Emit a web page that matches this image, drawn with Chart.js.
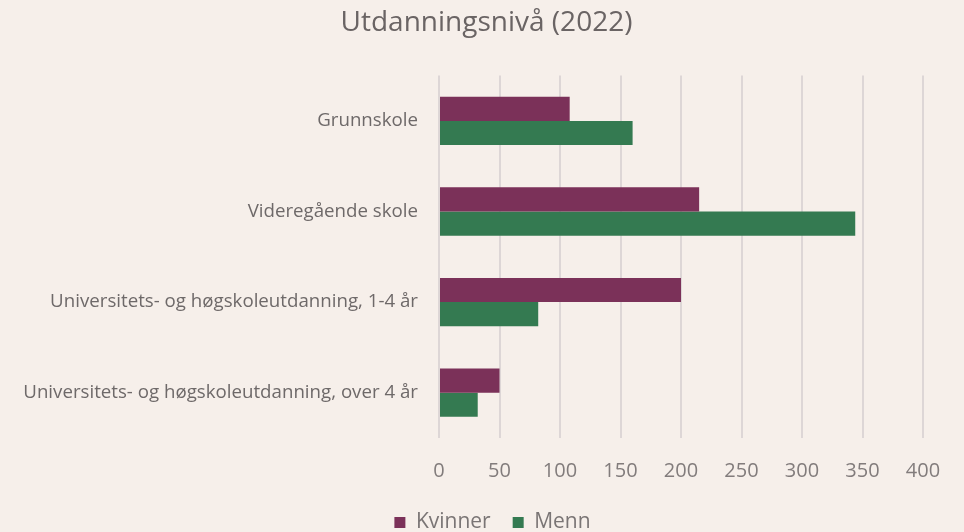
<!DOCTYPE html>
<html><head><meta charset="utf-8">
<script src="https://cdn.jsdelivr.net/npm/chart.js@4"></script>
<style>html,body{margin:0;padding:0;background:#F6EFEA;}#wrap{width:964px;height:532px;}</style>
</head><body><div id="wrap"><canvas id="c" width="964" height="532"></canvas></div>
<script>
const categories = ["Grunnskole","Videregående skole","Universitets- og høgskoleutdanning, 1-4 år","Universitets- og høgskoleutdanning, over 4 år"];
const kvinner = [108, 215, 200, 50];
const menn = [160, 344, 82, 32];
const seriesNames = ["Kvinner","Menn"];
const xTicks = [0,50,100,150,200,250,300,350,400];
const FONT = "'Open Sans', Lato, sans-serif";
const shiftBlocks = {
  id: 'shiftBlocks',
  afterLayout(chart) {
    if (chart.titleBlock) chart.titleBlock.left += 45;
    if (chart.legend) chart.legend.left += 57;
  }
};
new Chart(document.getElementById('c'), {
  type: 'bar',
  data: {
    labels: categories,
    datasets: [
      {label: seriesNames[0], data: kvinner, backgroundColor: '#7B3159', categoryPercentage: 0.533, barPercentage: 1},
      {label: seriesNames[1], data: menn, backgroundColor: '#347A51', categoryPercentage: 0.533, barPercentage: 1}
    ]
  },
  plugins: [shiftBlocks],
  options: {
    indexAxis: 'y',
    responsive: false,
    animation: false,
    layout: {padding: {left: 5, right: 41, top: 6, bottom: -11}},
    plugins: {
      title: {display: true, text: 'Utdanningsnivå (2022)', color: '#6A6464', font: {family: FONT, size: 28, weight: 'normal'}, padding: {top: 0, bottom: 36}},
      legend: {position: 'bottom', labels: {color: '#7A7575', font: {family: FONT, size: 21}, boxWidth: 11, boxHeight: 11, padding: 22}},
      tooltip: {enabled: false}
    },
    scales: {
      x: {
        min: 0, max: 400,
        afterBuildTicks: (s) => { s.ticks = xTicks.map(v => ({value: v})); },
        ticks: {color: '#827C7C', font: {family: FONT, size: 20}, padding: 21},
        grid: {color: '#DDD6D6', lineWidth: 2, drawTicks: false},
        border: {display: false},
        afterFit: (s) => { s.height = 52; }
      },
      y: {
        ticks: {color: '#6E6969', font: {family: FONT, size: 18.7}, padding: 13},
        grid: {display: false},
        border: {display: false},
        afterFit: (s) => { s.width = 434; }
      }
    }
  }
});
</script></body></html>
